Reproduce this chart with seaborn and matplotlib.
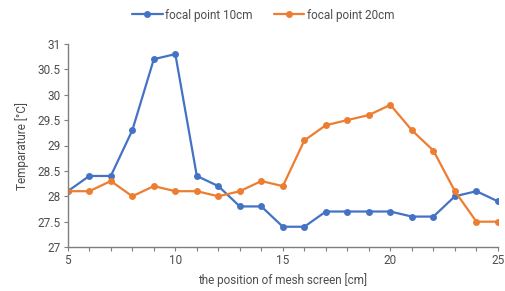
import matplotlib
matplotlib.use("Agg")
import matplotlib.pyplot as plt
import seaborn as sns
import pandas as pd

positions = list(range(5, 26))
focal_10 = [28.1, 28.4, 28.4, 29.3, 30.7, 30.8, 28.4, 28.2, 27.8, 27.8, 27.4,
            27.4, 27.7, 27.7, 27.7, 27.7, 27.6, 27.6, 28.0, 28.1, 27.9]
focal_20 = [28.1, 28.1, 28.3, 28.0, 28.2, 28.1, 28.1, 28.0, 28.1, 28.3, 28.2,
            29.1, 29.4, 29.5, 29.6, 29.8, 29.3, 28.9, 28.1, 27.5, 27.5]
series_names = ["focal point 10cm", "focal point 20cm"]
x_ticks = [5, 10, 15, 20, 25]
y_ticks = [27, 27.5, 28, 28.5, 29, 29.5, 30, 30.5, 31]

df = pd.DataFrame({"pos": positions * 2,
                   "temp": focal_10 + focal_20,
                   "series": [series_names[0]] * len(positions) + [series_names[1]] * len(positions)})

sns.set_style("white")
plt.rcParams['font.family'] = ['Roboto', 'DejaVu Sans']
txt = "#4d4d4d"

fig = plt.figure(figsize=(5.06, 2.91), dpi=100)
ax = fig.add_axes([0.134, 0.151, 0.850, 0.698])
sns.lineplot(data=df, x="pos", y="temp", hue="series", marker="o",
             palette=["#4472C4", "#ED7D31"], linewidth=1.6, markersize=5,
             markeredgewidth=0, ax=ax, legend=True)
ax.set_xlim(5, 25)
ax.set_ylim(27, 31)
ax.set_xticks(x_ticks)
ax.set_xticks(positions, minor=True)
ax.set_yticks(y_ticks)
ax.set_yticklabels([f"{v:g}" for v in y_ticks])
ax.tick_params(axis="both", which="both", colors="#7f7f7f", labelcolor=txt, labelsize=8.5,
               direction="out", length=3, width=0.8)
ax.tick_params(axis="x", which="both", bottom=True, pad=2)
ax.tick_params(axis="y", left=True, pad=2)
for s in ["top", "right"]:
    ax.spines[s].set_visible(False)
for s in ["left", "bottom"]:
    ax.spines[s].set_color("#7f7f7f")
    ax.spines[s].set_linewidth(1.0)
ax.set_xlabel("the position of mesh screen [cm]", color=txt, fontsize=8.5, labelpad=4)
ax.set_ylabel("Temparature [°C]", color=txt, fontsize=8.5, labelpad=6)
handles, labels = ax.get_legend_handles_labels()
ax.get_legend().remove()
leg = fig.legend(handles, labels, loc="center", bbox_to_anchor=(0.52, 1 - 15 / 291), ncol=2,
                 frameon=False, fontsize=8.5, handlelength=2.6, columnspacing=1.8, handletextpad=0.2)
for t in leg.get_texts():
    t.set_color(txt)
fig.savefig("out.png", dpi=100)
